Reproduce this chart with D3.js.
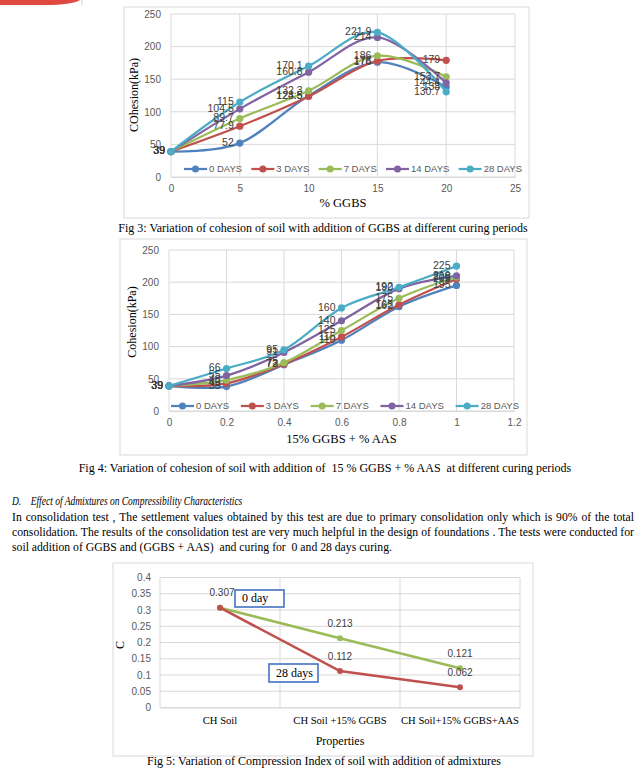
<!DOCTYPE html>
<html><head><meta charset="utf-8">
<script src="https://cdn.jsdelivr.net/npm/d3@7"></script>
<style>
body{margin:0;background:#fff;width:644px;height:776px;overflow:hidden;position:relative;font-family:"Liberation Serif","Times New Roman",serif;}
svg{position:absolute;left:0;top:0}
#head{position:absolute;left:12px;top:494px;font-style:italic;font-size:12px;white-space:nowrap;transform:scaleX(0.79);transform-origin:0 0;}
#para{position:absolute;left:12px;top:510px;width:622px;font-size:11.7px;line-height:15px;text-align:justify;color:#000;}
</style></head><body>
<svg id="c" width="644" height="776"></svg>
<div id="head">D.&nbsp;&nbsp;&nbsp;&nbsp;Effect of Admixtures on Compressibility Characteristics</div>
<div id="para">In consolidation test , The settlement values obtained by this test are due to primary consolidation only which is 90% of the total consolidation. The results of the consolidation test are very much helpful in the design of foundations . The tests were conducted for soil addition of GGBS and (GGBS + AAS)&nbsp; and curing for&nbsp; 0 and 28 days curing.</div>
<script>
// ---------- DATA ----------
const seriesNames = ["0 DAYS", "3 DAYS", "7 DAYS", "14 DAYS", "28 DAYS"];

// Fig 3: % GGBS
const ggbsX = [0, 5, 10, 15, 20];
const fig3Days0  = [39, 52, 124.5, 176, 138];
const fig3Days3  = [39, 77.9, 123.5, 178, 179];
const fig3Days7  = [39, 89.7, 132.3, 186, 153.7];
const fig3Days14 = [39, 104.5, 160.8, 214, 144.4];
const fig3Days28 = [39, 115, 170.1, 221.9, 130.7];
const fig3XTicks = [0, 5, 10, 15, 20, 25];
const fig3YTicks = [0, 50, 100, 150, 200, 250];

// Fig 4: 15% GGBS + % AAS
const aasX = [0, 0.2, 0.4, 0.6, 0.8, 1.0];
const fig4Days0  = [39, 38, 72, 110, 162, 195];
const fig4Days3  = [39, 43, 73, 115, 165, 205];
const fig4Days7  = [39, 48, 75, 125, 175, 208];
const fig4Days14 = [39, 55, 91, 140, 190, 210];
const fig4Days28 = [39, 66, 95, 160, 192, 225];
const fig4XTicks = [0, 0.2, 0.4, 0.6, 0.8, 1, 1.2];
const fig4YTicks = [0, 50, 100, 150, 200, 250];

// Fig 5: compression index
const fig5Categories = ["CH Soil", "CH Soil +15% GGBS", "CH Soil+15% GGBS+AAS"];
const fig5Day0  = [0.307, 0.213, 0.121];
const fig5Day28 = [0.307, 0.112, 0.062];
const fig5YTicks = [0, 0.05, 0.1, 0.15, 0.2, 0.25, 0.3, 0.35, 0.4];

// ---------- STYLE ----------
const colors5 = ["#4F81BD", "#C0504D", "#9BBB59", "#8064A2", "#4BACC6"];
const sans = '"Liberation Sans", Arial, sans-serif';
const serif = '"Liberation Serif", "Times New Roman", serif';
const gridC = "#d9d9d9", tickC = "#595959", labC = "#404040";

const svg = d3.select("#c");

// top-left artifact
svg.append("path").attr("d", "M0,0 L80,0 Q72,5 45,5 L0,5 Z").attr("fill", "#e0493f");
svg.append("line").attr("x1", 82).attr("x2", 82).attr("y1", 0).attr("y2", 5).attr("stroke", "#ccc");

function cohesionChart(o) {
  const g = svg.append("g");
  g.append("rect").attr("x", o.box[0]).attr("y", o.box[1]).attr("width", o.box[2]-o.box[0])
    .attr("height", o.box[3]-o.box[1]).attr("fill", "none").attr("stroke", gridC);
  const x = d3.scaleLinear().domain(o.xDomain).range(o.xRange);
  const y = d3.scaleLinear().domain([0, 250]).range(o.yRange);
  g.selectAll(".hg").data(o.yTicks).join("line")
    .attr("x1", o.xRange[0]).attr("x2", o.xRange[1]).attr("y1", d => y(d)).attr("y2", d => y(d))
    .attr("stroke", gridC);
  g.selectAll(".vg").data(o.xTicks).join("line")
    .attr("x1", d => x(d)).attr("x2", d => x(d)).attr("y1", o.yRange[0]).attr("y2", o.yRange[1])
    .attr("stroke", gridC);
  const ya = g.append("g").attr("transform", `translate(${o.xRange[0]},0)`)
    .call(d3.axisLeft(y).tickValues(o.yTicks).tickSize(0).tickPadding(10));
  ya.select(".domain").remove();
  ya.selectAll("text").attr("font-family", sans).attr("font-size", 10).attr("fill", tickC);
  const xa = g.append("g").attr("transform", `translate(0,${o.yRange[0]})`)
    .call(d3.axisBottom(x).tickValues(o.xTicks).tickSize(0).tickPadding(8).tickFormat(d3.format("")));
  xa.select(".domain").attr("stroke", gridC);
  xa.selectAll("text").attr("font-family", sans).attr("font-size", 10).attr("fill", tickC);
  g.append("text").attr("x", (o.xRange[0]+o.xRange[1])/2).attr("y", o.xTitleY).attr("text-anchor", "middle")
    .attr("font-family", serif).attr("font-size", 12.5).attr("dominant-baseline", "middle").text(o.xTitle);
  g.append("text").attr("transform", `translate(${o.yTitleX},${o.yTitleY}) rotate(-90)`).attr("text-anchor", "middle")
    .attr("font-family", serif).attr("font-size", 12).attr("dominant-baseline", "middle").text(o.yTitle);
  const line = d3.line().x((d, i) => x(o.xs[i])).y(d => y(d)).curve(d3.curveCardinal.tension(0));
  o.series.forEach((vals, si) => {
    const c = colors5[si];
    g.append("path").attr("d", line(vals)).attr("fill", "none").attr("stroke", c).attr("stroke-width", 2.25);
    g.selectAll(null).data(vals).join("circle").attr("cx", (d, i) => x(o.xs[i])).attr("cy", d => y(d))
      .attr("r", 3.6).attr("fill", c);
  });
  o.series.forEach((vals, si) => {
    g.selectAll(null).data(vals).join("text").attr("x", (d, i) => x(o.xs[i]) - 6).attr("y", d => y(d))
      .attr("text-anchor", "end").attr("dominant-baseline", "middle")
      .attr("font-family", sans).attr("font-size", 10.5).attr("fill", labC).text(d => d);
  });
  const lg = g.append("g");
  const items = seriesNames.map((n, i) => {
    const it = lg.append("g");
    const t = it.append("text").attr("y", o.legendY).attr("dominant-baseline", "middle")
      .attr("font-family", sans).attr("font-size", 9.5).attr("fill", tickC).text(n);
    return {it, t, w: 25 + t.node().getComputedTextLength(), c: colors5[i]};
  });
  const tot = d3.sum(items, d => d.w);
  const gap = (o.legendX[1] - o.legendX[0] - tot) / (items.length - 1);
  let cx = o.legendX[0];
  items.forEach(d => {
    d.it.append("line").attr("x1", cx).attr("x2", cx + 23).attr("y1", o.legendY).attr("y2", o.legendY)
      .attr("stroke", d.c).attr("stroke-width", 2.25);
    d.it.append("circle").attr("cx", cx + 11.5).attr("cy", o.legendY).attr("r", 3.5).attr("fill", d.c);
    d.t.attr("x", cx + 25);
    cx += d.w + gap;
  });
  g.append("text").attr("x", o.captionX).attr("y", o.captionY).attr("text-anchor", "middle")
    .attr("dominant-baseline", "middle").attr("font-family", serif).attr("font-size", 12)
    .style("white-space", "pre").text(o.caption);
}

cohesionChart({
  box: [124, 7, 529, 218],
  xDomain: [0, 25], xRange: [171, 515], yRange: [177, 14],
  xTicks: fig3XTicks, yTicks: fig3YTicks, xs: ggbsX,
  series: [fig3Days0, fig3Days3, fig3Days7, fig3Days14, fig3Days28],
  xTitle: "% GGBS", xTitleY: 204, yTitle: "COhesion(kPa)", yTitleX: 135, yTitleY: 95,
  legendY: 169, legendX: [184, 522],
  caption: "Fig 3: Variation of cohesion of soil with addition of GGBS at different curing periods",
  captionX: 323, captionY: 229
});

cohesionChart({
  box: [120, 239, 527, 455],
  xDomain: [0, 1.2], xRange: [169, 514], yRange: [411, 250],
  xTicks: fig4XTicks, yTicks: fig4YTicks, xs: aasX,
  series: [fig4Days0, fig4Days3, fig4Days7, fig4Days14, fig4Days28],
  xTitle: "15% GGBS + % AAS", xTitleY: 440, yTitle: "Cohesion(kPa)", yTitleX: 133, yTitleY: 322,
  legendY: 406, legendX: [171, 519],
  caption: "Fig 4: Variation of cohesion of soil with addition of  15 % GGBS + % AAS  at different curing periods",
  captionX: 325, captionY: 469
});

// ---------- Fig 5 ----------
(function () {
  const g = svg.append("g");
  g.append("rect").attr("x", 113).attr("y", 563).attr("width", 420).attr("height", 193)
    .attr("fill", "none").attr("stroke", gridC);
  const x = d3.scaleBand().domain(fig5Categories).range([160, 520]);
  const y = d3.scaleLinear().domain([0, 0.4]).range([707.5, 577.5]);
  g.selectAll(".hg").data(fig5YTicks).join("line").attr("x1", 160).attr("x2", 520)
    .attr("y1", d => y(d)).attr("y2", d => y(d)).attr("stroke", gridC);
  const bounds = fig5Categories.map(c => x(c)).concat([x.range()[1]]);
  g.selectAll(".vg").data(bounds).join("line").attr("x1", d => d).attr("x2", d => d)
    .attr("y1", y(0)).attr("y2", y(0.4)).attr("stroke", gridC);
  const ya = g.append("g").attr("transform", "translate(160,0)")
    .call(d3.axisLeft(y).tickValues(fig5YTicks).tickSize(0).tickPadding(9).tickFormat(d3.format("")));
  ya.select(".domain").remove();
  ya.selectAll("text").attr("font-family", sans).attr("font-size", 10).attr("fill", tickC);
  const xa = g.append("g").attr("transform", `translate(0,${y(0)})`)
    .call(d3.axisBottom(x).tickSize(0).tickPadding(9));
  xa.select(".domain").attr("stroke", gridC);
  xa.selectAll("text").attr("font-family", serif).attr("font-size", 10.6).attr("fill", "#000");
  g.append("text").attr("x", 340).attr("y", 742).attr("text-anchor", "middle").attr("dominant-baseline", "middle")
    .attr("font-family", serif).attr("font-size", 12).text("Properties");
  g.append("text").attr("transform", "translate(121,645) rotate(-90)").attr("text-anchor", "middle")
    .attr("dominant-baseline", "middle").attr("font-family", serif).attr("font-size", 12).text("C");
  const cx = c => x(c) + x.bandwidth() / 2;
  const line = d3.line().x((d, i) => cx(fig5Categories[i])).y(d => y(d));
  [[fig5Day0, "#9BBB59"], [fig5Day28, "#C0504D"]].forEach(([vals, col]) => {
    g.append("path").attr("d", line(vals)).attr("fill", "none").attr("stroke", col).attr("stroke-width", 2.5);
    g.selectAll(null).data(vals).join("circle").attr("cx", (d, i) => cx(fig5Categories[i])).attr("cy", d => y(d))
      .attr("r", 3).attr("fill", col);
  });
  // labels (first point shared by both series, labelled once)
  [[fig5Day0, 0], [fig5Day28, 1]].forEach(([vals, k]) => {
    const pts = vals.map((v, i) => ({v, i})).filter(p => !(k === 1 && p.i === 0));
    g.selectAll(null).data(pts).join("text")
      .attr("x", p => cx(fig5Categories[p.i]) + (p.i === 0 ? 2 : 0)).attr("y", p => y(p.v) - 14)
      .attr("text-anchor", "middle").attr("dominant-baseline", "middle")
      .attr("font-family", sans).attr("font-size", 10).attr("fill", labC).text(p => p.v);
  });
  function tbox(x0, y0, w, h, txt) {
    g.append("rect").attr("x", x0).attr("y", y0).attr("width", w).attr("height", h)
      .attr("fill", "#fff").attr("stroke", "#4472C4").attr("stroke-width", 1.6);
    g.append("text").attr("x", x0 + 7).attr("y", y0 + h / 2 + 1).attr("dominant-baseline", "middle")
      .attr("font-family", serif).attr("font-size", 12).text(txt);
  }
  tbox(235, 590, 49, 17, "0 day");
  tbox(269, 664, 49, 18, "28 days");
  g.append("text").attr("x", 324).attr("y", 762).attr("text-anchor", "middle").attr("dominant-baseline", "middle")
    .attr("font-family", serif).attr("font-size", 12).text("Fig 5: Variation of Compression Index of soil with addition of admixtures");
})();
</script>
</body></html>
